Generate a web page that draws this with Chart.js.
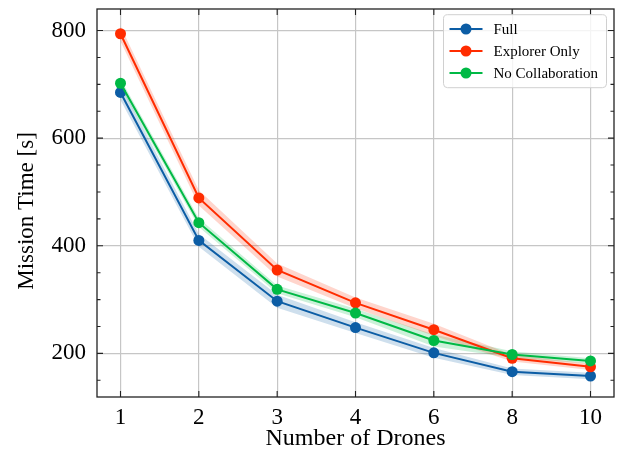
<!DOCTYPE html>
<html><head><meta charset="utf-8">
<script src="https://cdn.jsdelivr.net/npm/chart.js@4/dist/chart.umd.min.js"></script>
<style>html,body{margin:0;padding:0;background:#fff}#wrap{width:629px;height:451px}</style>
</head><body><div id="wrap"><canvas id="c" width="629" height="451"></canvas></div>
<script>
// ---- data ----
const droneCounts = ['1', '2', '3', '4', '6', '8', '10'];
const fullTime = [685, 410, 297, 248, 201, 166, 158];
const explorerTime = [794, 489, 355, 294, 244, 191, 175];
const noCollabTime = [702, 443, 319, 275, 224, 198, 186];
const fullSpread = [14, 12, 12, 10, 9, 6, 6];
const explorerSpread = [14, 14, 12, 10, 11, 6, 6];
const noCollabSpread = [8, 8, 7, 8, 11, 6, 5];
const yMajorTicks = [200, 400, 600, 800];
const yMinorStep = 50;
const xTitle = 'Number of Drones';
const yTitle = 'Mission Time [s]';

const seriesNames = ['Full', 'Explorer Only', 'No Collaboration'];
const seriesColors = ['#0C5DA5', '#FF2C00', '#00B945'];
const bandColors = ['rgba(12,93,165,0.2)', 'rgba(255,44,0,0.2)', 'rgba(0,185,69,0.2)'];

const toPts = arr => arr.map((v, i) => ({x: i, y: v}));
const hi = (m, s) => m.map((v, i) => v + s[i]);
const lo = (m, s) => m.map((v, i) => v - s[i]);

const means = [fullTime, explorerTime, noCollabTime];
const spreads = [fullSpread, explorerSpread, noCollabSpread];

const datasets = [];
const lineOrder = [2, 1, 0];
means.forEach((m, k) => {
  datasets.push({
    label: seriesNames[k], data: toPts(m), borderColor: seriesColors[k], backgroundColor: seriesColors[k],
    borderWidth: 2, pointRadius: 5.5, pointBorderWidth: 0, pointHoverRadius: 5.5, fill: false, tension: 0,
    order: lineOrder[k]
  });
});
means.forEach((m, k) => {
  datasets.push({
    label: '_hi' + k, data: toPts(hi(m, spreads[k])), borderWidth: 0, pointRadius: 0, borderColor: 'rgba(0,0,0,0)',
    backgroundColor: bandColors[k], fill: '+1', order: 5 + k
  });
  datasets.push({
    label: '_lo' + k, data: toPts(lo(m, spreads[k])), borderWidth: 0, pointRadius: 0, borderColor: 'rgba(0,0,0,0)',
    backgroundColor: 'rgba(0,0,0,0)', fill: false, order: 5 + k
  });
});

const serif = "'Liberation Serif', 'DejaVu Serif', serif";
const gridColor = '#c6c6c6';
const fontSize = 23;

const framePlugin = {
  id: 'frameTicks',
  afterDatasetsDraw(chart) {
    const {ctx, chartArea: a, scales} = chart;
    ctx.save();
    ctx.strokeStyle = '#222';
    ctx.lineWidth = 1.3;
    ctx.strokeRect(a.left, a.top, a.right - a.left, a.bottom - a.top);
    ctx.lineWidth = 1.1;
    ctx.beginPath();
    droneCounts.forEach((_, i) => {
      const px = scales.x.getPixelForValue(i);
      ctx.moveTo(px, a.bottom); ctx.lineTo(px, a.bottom - 6);
      ctx.moveTo(px, a.top); ctx.lineTo(px, a.top + 6);
    });
    const ys = scales.y;
    for (let v = Math.ceil(ys.min / yMinorStep) * yMinorStep; v <= ys.max; v += yMinorStep) {
      const py = ys.getPixelForValue(v);
      const len = yMajorTicks.includes(v) ? 6 : 3.5;
      ctx.moveTo(a.left, py); ctx.lineTo(a.left + len, py);
      ctx.moveTo(a.right, py); ctx.lineTo(a.right - len, py);
    }
    ctx.stroke();
    ctx.restore();
  },
  afterDraw(chart) {
    const {ctx, chartArea: a} = chart;
    // y-axis title
    ctx.save();
    ctx.font = fontSize + "px " + serif;
    ctx.fillStyle = '#000';
    ctx.textAlign = 'center';
    ctx.textBaseline = 'middle';
    ctx.translate(27, (a.top + a.bottom) / 2 + 8);
    ctx.rotate(-Math.PI / 2);
    ctx.fillText(yTitle, 0, 0);
    ctx.restore();
    // legend
    const boxW = 163, boxH = 73;
    const bx = a.right - 7.5 - boxW, by = a.top + 5.7;
    ctx.save();
    ctx.beginPath();
    ctx.roundRect(bx, by, boxW, boxH, 4);
    ctx.fillStyle = 'rgba(255,255,255,0.8)';
    ctx.fill();
    ctx.strokeStyle = '#d0d0d0';
    ctx.lineWidth = 1;
    ctx.stroke();
    ctx.font = "15px " + serif;
    ctx.textBaseline = 'middle';
    seriesNames.forEach((name, k) => {
      const cy = by + 14.3 + k * 22;
      ctx.strokeStyle = seriesColors[k];
      ctx.lineWidth = 2;
      ctx.beginPath(); ctx.moveTo(bx + 6, cy); ctx.lineTo(bx + 39, cy); ctx.stroke();
      ctx.fillStyle = seriesColors[k];
      ctx.beginPath(); ctx.arc(bx + 22.5, cy, 5.5, 0, Math.PI * 2); ctx.fill();
      ctx.fillStyle = '#000';
      ctx.fillText(name, bx + 50, cy + 1);
    });
    ctx.restore();
  }
};

new Chart(document.getElementById('c'), {
  type: 'line',
  data: {datasets},
  options: {
    responsive: false, devicePixelRatio: 1, animation: false,
    layout: {padding: {top: 9, right: 15, left: 0, bottom: 0}},
    plugins: {legend: {display: false}, tooltip: {enabled: false}},
    scales: {
      x: {
        type: 'linear', min: -0.3, max: 6.3,
        afterBuildTicks: s => { s.ticks = droneCounts.map((_, i) => ({value: i})); },
        afterFit: s => { s.height = 54; s.paddingLeft = 0; s.paddingRight = 0; },
        ticks: {callback: v => droneCounts[v], font: {family: serif, size: fontSize}, color: '#000', padding: 7, maxRotation: 0, autoSkip: false},
        grid: {color: gridColor, lineWidth: 1.2, drawTicks: false},
        border: {display: false},
        title: {display: true, text: xTitle, font: {family: serif, size: 24}, color: '#000', padding: {top: 0, bottom: -2}}
      },
      y: {
        type: 'linear', min: 119, max: 840,
        afterBuildTicks: s => { s.ticks = yMajorTicks.map(v => ({value: v})); },
        afterFit: s => { s.width = 97; s.paddingTop = 0; s.paddingBottom = 0; },
        ticks: {font: {family: serif, size: fontSize}, color: '#000', padding: 11},
        grid: {color: gridColor, lineWidth: 1.2, drawTicks: false},
        border: {display: false},
        title: {display: false}
      }
    }
  },
  plugins: [framePlugin]
});
</script></body></html>
